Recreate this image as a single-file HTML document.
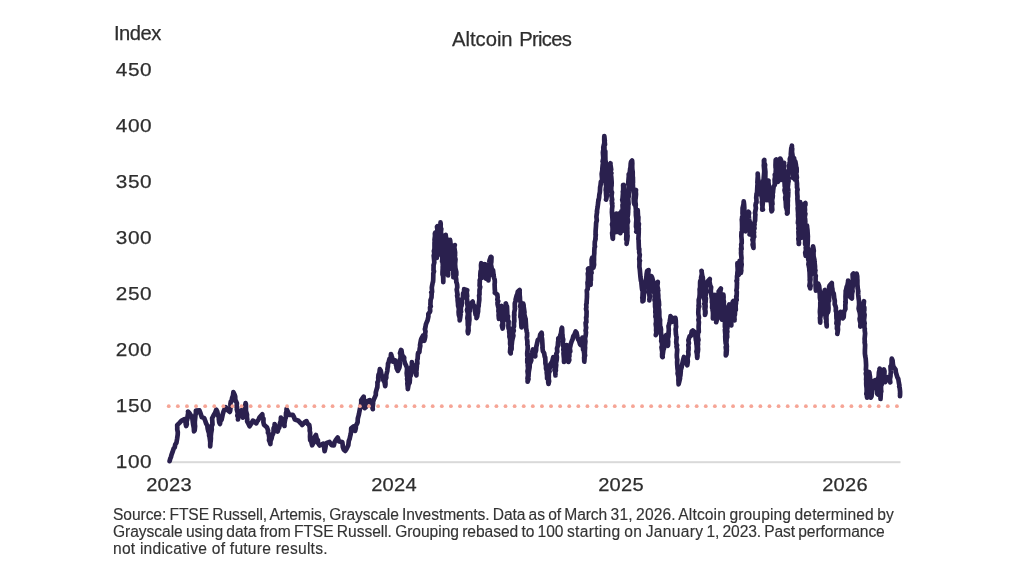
<!DOCTYPE html>
<html><head><meta charset="utf-8"><title>Altcoin Prices</title>
<style>
html,body{margin:0;padding:0;background:#fff;}
body{width:1024px;height:576px;position:relative;overflow:hidden;font-family:"Liberation Sans",sans-serif;color:#2e2e2e;}
.t{position:absolute;white-space:nowrap;line-height:1;}
.t,.yl,.xl{-webkit-text-stroke:0.25px #2e2e2e;}
.t,.yl,.xl,.fn{will-change:transform;}
.yl{position:absolute;left:101px;margin-top:0px;width:51.2px;text-align:right;font-size:19px;line-height:20px;height:20px;letter-spacing:0.5px;transform:scaleX(1.095);transform-origin:100% 50%;}
.xl{position:absolute;width:80px;text-align:center;font-size:18.7px;line-height:20px;top:475.2px;letter-spacing:0.2px;transform:scaleX(1.075);transform-origin:50% 50%;}
.fn{position:absolute;left:113.4px;top:506.4px;font-size:15.6px;line-height:17px;white-space:nowrap;color:#333;word-spacing:-1.03px;-webkit-text-stroke:0.15px #333;}
#l3{word-spacing:0;letter-spacing:0.23px;}
svg{position:absolute;left:0;top:0;filter:blur(0.35px);}
</style></head><body>
<div class="t" style="left:113.6px;top:23px;font-size:20.2px;letter-spacing:-0.5px;">Index</div>
<div class="t" id="title" style="left:452.1px;top:29.4px;font-size:20.2px;letter-spacing:0;"><span>Altcoin</span><span style="letter-spacing:-0.7px;word-spacing:1.7px"> Prices</span></div>
<div class="yl" style="top:59.5px">450</div>
<div class="yl" style="top:115.5px">400</div>
<div class="yl" style="top:171.5px">350</div>
<div class="yl" style="top:228px">300</div>
<div class="yl" style="top:284px">250</div>
<div class="yl" style="top:340px">200</div>
<div class="yl" style="top:396px">150</div>
<div class="yl" style="top:452px">100</div>
<div class="xl" style="left:128.5px">2023</div>
<div class="xl" style="left:354.3px">2024</div>
<div class="xl" style="left:580.7px">2025</div>
<div class="xl" style="left:805.1px">2026</div>
<svg width="1024" height="576" viewBox="0 0 1024 576">
<rect x="170" y="461.2" width="730.5" height="2" fill="#d9d9d9"/>
<path d="M169.6,461.2 L170.4,458.2 L171.0,456.9 L171.5,454.8 L172.4,452.4 L173.6,448.7 L174.7,447.5 L175.3,444.3 L176.4,442.8 L177.1,438.9 L177.7,434.7 L177.8,432.3 L177.2,429.1 L177.3,428.3 L177.2,425.1 L179.5,422.8 L181.3,420.9 L184.6,419.1 L185.6,421.5 L185.7,424.2 L186.2,426.1 L186.8,424.2 L186.6,421.4 L187.2,419.7 L187.7,415.7 L188.2,412.8 L188.0,411.5 L189.4,413.1 L190.8,415.2 L191.9,417.5 L192.5,419.2 L192.8,422.2 L193.1,424.2 L193.8,427.7 L193.9,429.3 L194.0,431.4 L194.7,430.2 L195.1,426.1 L194.9,424.8 L194.8,422.0 L195.1,418.8 L195.2,418.2 L195.5,414.5 L195.9,413.9 L195.9,410.6 L199.4,410.4 L200.5,413.2 L200.9,414.4 L201.8,417.2 L204.2,418.2 L205.3,421.0 L206.2,423.7 L207.3,425.7 L207.7,428.7 L208.3,431.1 L209.1,433.6 L209.1,435.6 L209.5,436.5 L210.0,440.3 L210.3,442.6 L210.2,443.8 L210.2,446.4 L210.4,443.0 L210.7,440.9 L210.9,438.3 L210.8,436.3 L211.0,434.5 L211.1,433.4 L211.8,429.4 L211.6,427.5 L211.9,424.7 L212.5,424.6 L212.3,421.0 L212.1,418.4 L213.3,416.0 L214.7,413.5 L214.9,413.4 L216.3,409.7 L217.2,411.3 L218.1,415.4 L218.9,417.7 L218.8,419.0 L219.2,422.2 L220.0,424.0 L220.5,420.6 L221.5,420.0 L222.2,417.0 L222.8,414.0 L223.5,411.7 L224.9,408.3 L225.8,407.3 L227.6,410.2 L229.8,411.9 L230.2,410.8 L230.6,406.7 L230.4,404.0 L230.8,401.5 L231.6,401.0 L232.2,397.5 L233.0,395.5 L233.4,392.1 L234.7,395.0 L235.2,396.5 L235.3,399.7 L236.1,401.5 L236.9,403.2 L236.6,407.0 L237.1,407.2 L236.8,409.4 L237.8,413.4 L237.3,415.7 L238.3,417.5 L238.0,419.4 L238.6,415.8 L240.1,415.1 L240.5,413.5 L241.2,410.3 L242.2,411.8 L242.3,414.5 L242.9,417.6 L243.3,414.9 L243.6,413.8 L244.2,410.2 L244.8,409.0 L245.1,406.6 L245.6,403.1 L245.9,404.1 L246.0,406.8 L245.9,410.7 L246.3,412.1 L247.0,414.6 L246.9,416.8 L247.3,419.7 L247.1,421.3 L248.2,423.2 L249.6,426.3 L251.0,424.1 L252.9,420.6 L254.5,421.9 L256.3,423.3 L257.3,421.1 L258.3,420.1 L259.6,417.2 L262.3,414.2 L262.6,418.2 L263.5,418.8 L263.4,422.2 L264.0,424.8 L267.1,427.6 L268.1,430.8 L267.9,432.7 L268.7,433.6 L269.3,437.9 L269.0,440.2 L269.6,441.4 L270.4,444.0 L270.5,441.1 L271.6,438.4 L272.1,435.8 L273.3,433.3 L273.6,431.1 L273.6,428.3 L274.6,426.3 L274.6,424.2 L276.3,427.4 L276.7,428.2 L277.7,431.5 L278.4,428.2 L279.1,427.9 L280.0,424.1 L279.9,423.5 L280.8,420.8 L280.9,417.7 L282.7,420.7 L283.4,424.1 L284.5,425.9 L284.4,424.2 L284.7,421.9 L285.4,418.2 L285.9,417.4 L286.0,413.1 L286.6,411.0 L286.5,409.1 L287.7,411.4 L289.2,414.8 L292.7,414.8 L293.8,416.7 L294.9,419.6 L298.5,420.8 L300.8,423.3 L302.2,425.0 L304.8,422.1 L306.5,421.2 L307.8,424.0 L309.3,425.0 L309.8,428.7 L309.7,430.8 L310.2,432.8 L310.1,434.6 L310.0,436.6 L310.2,440.2 L311.3,441.7 L312.1,445.3 L313.5,442.9 L313.6,439.4 L314.2,437.5 L315.9,435.0 L316.7,438.6 L317.9,440.1 L317.9,442.9 L319.8,445.5 L323.3,443.7 L324.1,446.3 L324.3,448.8 L324.6,451.1 L325.3,448.3 L325.9,444.7 L326.7,442.9 L329.5,441.9 L331.5,445.1 L333.9,445.3 L334.6,442.1 L336.0,439.7 L337.7,437.6 L339.0,441.5 L342.3,442.0 L342.7,445.1 L342.8,447.0 L343.8,449.7 L345.3,450.9 L346.6,448.7 L348.3,445.2 L348.8,440.8 L349.7,438.6 L350.0,437.0 L350.7,434.1 L351.1,431.7 L351.2,428.3 L353.4,426.5 L354.1,428.8 L355.1,430.9 L355.8,428.1 L355.9,425.7 L357.1,423.5 L357.6,422.4 L357.8,418.5 L358.3,416.7 L359.0,413.9 L359.8,409.5 L360.3,407.3 L361.1,404.8 L361.3,401.8 L361.2,400.3 L362.1,398.9 L363.7,396.7 L363.8,399.0 L364.1,400.3 L364.8,402.8 L365.1,407.0 L364.6,408.1 L365.9,407.1 L366.2,402.9 L366.6,401.7 L369.7,400.1 L370.3,402.3 L371.7,403.5 L372.2,406.8 L372.8,409.2 L372.6,407.8 L373.1,403.2 L373.0,402.2 L373.7,399.8 L375.3,396.1 L375.8,394.9 L375.8,392.4 L376.9,388.3 L377.3,387.7 L377.5,384.2 L377.4,382.4 L378.4,380.6 L378.2,377.9 L378.5,374.6 L378.8,374.8 L379.4,372.9 L379.8,369.2 L380.8,370.8 L381.6,375.3 L382.8,376.6 L383.2,380.0 L384.1,381.4 L384.6,382.5 L385.2,386.2 L385.5,384.2 L385.4,379.9 L386.3,377.7 L386.2,375.8 L386.4,374.5 L387.3,371.0 L387.5,368.5 L387.9,366.6 L388.0,363.6 L388.5,362.9 L389.5,358.9 L390.6,358.7 L391.0,354.0 L391.4,355.6 L392.3,358.1 L392.9,361.6 L395.1,360.4 L395.7,362.0 L395.9,364.6 L396.4,366.3 L396.6,368.3 L397.9,370.9 L399.4,367.6 L399.9,364.1 L399.5,361.7 L399.8,359.8 L400.5,358.6 L400.6,353.5 L400.0,353.2 L401.0,350.0 L401.5,350.5 L402.2,355.5 L403.4,356.6 L404.2,357.7 L404.0,359.7 L405.0,363.3 L406.3,366.0 L407.0,367.8 L407.0,370.1 L406.7,373.2 L407.0,376.0 L407.5,376.7 L407.1,378.9 L407.7,382.7 L407.3,383.3 L407.8,387.2 L407.8,389.1 L408.4,385.6 L408.6,384.5 L409.6,382.7 L409.9,379.8 L409.8,377.2 L410.8,375.6 L410.5,371.1 L411.0,370.5 L411.3,366.8 L411.9,366.3 L411.9,362.0 L412.5,364.8 L413.4,366.6 L414.0,370.3 L414.9,371.9 L416.4,375.4 L416.5,372.6 L416.2,371.9 L416.5,370.3 L416.9,365.7 L416.8,364.2 L417.4,363.6 L417.2,359.9 L417.6,359.2 L417.9,354.1 L418.2,352.9 L419.4,352.2 L419.6,349.3 L420.3,345.7 L420.0,345.2 L421.0,339.7 L421.4,338.6 L422.9,335.8 L423.5,336.8 L424.3,340.8 L425.1,337.4 L425.3,335.4 L424.9,335.1 L425.5,331.4 L424.9,329.2 L425.4,327.5 L425.9,324.4 L427.2,321.0 L427.4,320.9 L428.4,316.4 L428.3,313.9 L429.8,312.1 L430.2,311.0 L430.0,307.4 L430.8,306.4 L430.4,304.5 L430.6,300.7 L430.5,300.2 L431.5,297.5 L431.7,293.0 L431.3,292.4 L432.1,292.0 L431.8,287.7 L432.1,285.7 L432.8,282.1 L433.0,282.0 L433.2,279.8 L433.3,275.7 L433.3,273.5 L434.0,271.2 L433.5,270.5 L433.6,265.5 L433.5,265.2 L433.8,264.6 L434.3,262.4 L433.8,256.4 L433.7,255.9 L434.3,253.4 L433.9,251.0 L434.3,249.8 L434.5,248.3 L434.5,242.9 L434.7,241.4 L434.5,239.8 L435.0,236.0 L434.9,233.6 L435.2,232.6 L435.7,233.6 L435.6,238.9 L435.8,237.9 L436.1,242.1 L436.4,242.1 L436.0,247.5 L436.4,250.3 L435.8,250.0 L436.0,252.0 L436.8,256.0 L436.9,257.8 L436.9,255.5 L436.4,254.6 L437.1,249.5 L436.9,249.4 L436.6,246.1 L436.6,243.1 L436.8,242.6 L437.2,238.6 L436.7,236.8 L437.4,233.9 L437.1,231.8 L437.6,231.0 L437.0,226.8 L437.4,226.3 L437.7,226.6 L437.4,231.5 L437.7,231.9 L437.7,237.1 L437.8,237.6 L438.0,239.2 L438.5,243.9 L438.2,242.6 L438.6,244.9 L438.1,250.1 L438.5,251.9 L438.6,254.4 L438.8,254.5 L438.5,252.9 L439.1,252.1 L438.7,248.6 L439.1,245.8 L439.0,242.6 L439.4,243.1 L439.2,238.9 L439.9,238.7 L439.5,232.7 L440.2,234.2 L439.9,227.8 L440.4,227.0 L440.5,225.7 L440.5,222.4 L440.7,224.1 L440.6,229.3 L441.3,228.8 L440.9,232.2 L441.4,234.6 L441.3,236.5 L442.1,240.6 L441.6,242.6 L442.3,242.7 L442.4,245.3 L442.3,249.5 L442.3,250.8 L442.2,254.3 L442.3,256.9 L442.4,258.3 L442.1,261.4 L442.6,262.1 L442.9,266.7 L442.7,266.5 L442.7,268.6 L442.5,272.2 L442.5,274.6 L443.0,275.3 L443.2,277.8 L443.3,282.1 L443.3,277.6 L443.4,276.4 L444.0,273.1 L444.0,274.1 L444.1,270.9 L443.8,269.2 L444.2,266.7 L444.7,261.0 L444.8,260.6 L444.2,257.1 L445.0,253.9 L445.3,252.1 L445.3,249.2 L445.2,250.1 L445.1,245.0 L445.5,242.9 L445.2,240.0 L445.4,240.9 L446.0,238.4 L445.7,234.8 L445.8,236.8 L446.4,238.4 L446.7,241.5 L446.6,245.2 L446.3,247.9 L446.9,247.7 L447.2,249.4 L447.5,253.0 L447.1,255.4 L447.2,255.9 L447.6,257.6 L447.8,260.7 L447.7,265.9 L447.8,266.8 L447.6,266.3 L447.5,269.1 L448.1,272.5 L448.1,275.5 L447.9,271.6 L448.5,268.4 L448.0,267.4 L448.3,265.1 L448.5,263.7 L448.9,259.8 L449.1,258.6 L448.8,258.1 L449.0,252.5 L449.0,252.2 L449.8,250.5 L449.5,246.0 L449.3,245.3 L449.9,241.7 L450.1,239.9 L450.5,243.3 L450.0,246.4 L449.9,247.1 L450.3,248.2 L450.1,252.8 L450.2,254.2 L451.1,254.8 L450.5,259.1 L450.9,261.6 L451.3,262.0 L450.9,264.9 L450.8,268.6 L451.6,266.7 L451.0,265.0 L451.8,261.3 L451.9,259.0 L451.6,255.4 L451.7,252.9 L452.0,253.6 L452.4,251.9 L452.6,247.2 L452.5,245.9 L452.8,248.3 L452.4,251.0 L453.1,251.5 L453.1,252.8 L452.6,256.0 L453.1,261.1 L453.2,260.8 L453.4,263.0 L452.9,267.6 L453.3,268.9 L453.4,272.3 L453.3,273.9 L453.6,276.2 L453.4,277.3 L453.6,273.9 L453.4,272.8 L453.3,271.7 L453.4,265.8 L453.5,267.1 L453.7,261.6 L453.5,258.8 L454.2,258.9 L454.3,257.0 L453.8,254.1 L454.1,252.7 L454.6,250.7 L453.9,248.3 L454.8,245.1 L454.2,245.5 L454.3,247.0 L455.1,252.6 L455.0,255.0 L455.1,255.0 L454.8,256.6 L455.5,259.3 L455.2,262.5 L455.1,264.2 L455.4,268.3 L455.6,269.1 L456.3,272.1 L456.3,274.9 L455.7,276.3 L456.2,279.4 L456.3,282.2 L456.6,282.6 L457.1,284.5 L457.3,287.2 L456.7,289.6 L457.6,295.0 L457.1,295.5 L457.7,298.9 L457.6,300.0 L458.0,303.5 L458.1,306.2 L458.3,305.8 L458.9,309.1 L458.6,311.9 L458.8,314.7 L459.5,317.0 L459.7,317.7 L459.7,320.4 L460.3,316.8 L460.6,314.4 L460.2,313.0 L461.1,311.6 L460.8,310.8 L460.9,307.0 L461.5,305.9 L461.9,303.3 L461.8,300.3 L462.1,299.5 L463.0,296.9 L463.1,293.5 L464.1,291.8 L464.1,289.2 L467.2,290.2 L466.7,292.0 L467.2,296.3 L466.8,295.9 L466.9,298.8 L467.2,300.4 L467.1,302.8 L467.8,307.0 L467.0,310.1 L467.1,310.2 L468.0,313.9 L467.8,314.9 L467.4,317.8 L467.4,318.5 L467.7,320.2 L467.8,325.1 L468.1,326.3 L468.1,328.4 L467.7,331.1 L468.0,333.3 L468.6,330.5 L468.5,329.3 L468.5,325.2 L468.9,325.2 L469.1,322.2 L469.4,319.9 L469.3,316.8 L469.2,315.1 L469.2,312.1 L469.9,310.9 L470.0,306.9 L469.9,305.4 L471.4,302.9 L472.7,301.6 L473.0,304.3 L474.4,306.1 L475.0,309.9 L475.1,311.6 L475.6,314.6 L476.8,315.9 L476.5,318.1 L477.2,316.6 L477.5,314.1 L478.1,311.5 L478.1,310.9 L478.2,307.7 L478.7,305.8 L478.7,304.5 L479.3,299.9 L479.3,297.8 L479.1,295.6 L479.5,294.4 L479.5,290.5 L479.5,290.0 L480.2,286.9 L479.6,285.7 L479.8,281.2 L479.7,280.4 L480.5,278.2 L480.3,275.6 L480.3,274.9 L480.6,271.3 L481.2,269.7 L481.0,265.2 L481.3,263.2 L481.8,265.5 L482.0,267.6 L481.8,269.9 L482.0,272.0 L481.8,276.5 L482.3,277.6 L482.5,275.6 L482.8,273.9 L483.1,270.4 L483.6,270.1 L482.9,267.7 L483.9,264.4 L484.7,264.2 L485.3,264.3 L484.9,270.7 L485.6,270.4 L485.3,272.5 L485.6,277.6 L485.9,278.5 L486.7,277.9 L486.5,276.1 L487.2,273.4 L487.7,270.6 L488.0,273.9 L487.7,275.8 L488.3,278.5 L488.4,280.5 L488.6,276.8 L488.5,274.1 L488.8,271.6 L488.9,269.7 L489.0,268.9 L489.1,268.1 L488.8,265.8 L489.3,262.5 L489.5,260.5 L490.8,256.8 L491.5,257.4 L491.3,262.0 L490.9,264.1 L491.6,267.7 L491.4,270.2 L491.7,270.4 L492.2,270.9 L492.2,275.2 L492.4,273.9 L493.0,270.0 L493.4,273.6 L493.5,274.7 L494.0,277.7 L494.7,279.7 L494.8,282.2 L494.6,284.3 L494.8,289.6 L495.0,291.5 L494.8,292.8 L497.3,294.4 L497.7,297.6 L497.3,299.6 L498.2,301.2 L497.5,302.6 L497.6,304.5 L498.6,308.3 L498.4,311.2 L498.8,312.8 L498.6,315.2 L498.8,317.3 L498.9,318.9 L499.3,316.8 L499.8,313.2 L499.7,310.7 L500.7,311.6 L501.0,307.3 L501.5,305.9 L501.4,306.9 L501.3,309.7 L501.5,312.0 L501.9,316.1 L501.5,317.0 L501.6,317.7 L502.4,321.5 L502.6,323.3 L501.9,325.4 L502.6,328.5 L503.2,325.6 L503.0,322.0 L503.4,320.0 L503.3,317.0 L503.4,317.0 L503.8,315.7 L504.0,312.2 L504.5,307.8 L505.5,306.4 L506.0,304.0 L505.8,303.4 L506.7,306.8 L507.0,306.5 L507.2,311.3 L507.3,314.6 L507.4,317.2 L508.0,316.3 L507.7,320.7 L508.6,321.2 L508.4,325.7 L508.5,328.3 L509.0,327.7 L509.2,331.7 L509.5,334.2 L509.4,336.8 L509.9,338.2 L510.2,340.2 L510.1,343.9 L510.7,346.4 L510.4,347.3 L510.0,352.0 L510.7,353.4 L510.7,350.8 L511.6,349.1 L511.6,344.9 L511.8,344.3 L512.1,341.1 L512.6,338.5 L513.4,335.7 L512.8,333.0 L513.3,331.9 L513.8,330.7 L513.2,328.3 L514.0,326.3 L513.9,322.0 L514.3,321.7 L514.3,319.9 L514.1,314.7 L514.4,315.1 L514.2,312.7 L515.0,308.6 L514.8,308.0 L514.8,304.1 L514.8,303.3 L515.8,300.6 L515.6,299.6 L516.7,295.2 L517.1,295.5 L517.8,291.8 L519.7,290.0 L519.6,291.0 L519.7,295.3 L519.9,297.1 L520.0,299.2 L519.9,299.7 L520.8,303.3 L520.1,306.5 L520.8,307.1 L520.7,310.1 L520.7,311.2 L520.4,317.0 L521.2,317.5 L521.0,319.0 L521.3,321.9 L521.6,325.4 L521.5,327.3 L521.2,322.8 L521.4,320.9 L521.4,318.0 L522.0,318.6 L522.1,316.5 L522.7,310.9 L522.6,309.8 L522.4,309.4 L522.7,305.6 L523.2,303.6 L523.6,305.1 L523.7,306.8 L524.5,312.3 L524.1,311.3 L524.5,315.0 L525.4,318.5 L525.6,318.9 L525.9,323.7 L526.1,327.2 L525.9,326.8 L526.8,332.0 L527.1,332.8 L527.1,336.3 L526.8,337.2 L527.0,339.0 L527.4,341.5 L527.3,344.6 L527.7,345.7 L527.7,348.6 L527.2,353.3 L527.3,355.6 L528.0,357.8 L527.3,358.7 L527.3,362.5 L528.0,363.8 L527.7,365.3 L528.0,368.0 L527.9,369.3 L527.5,371.3 L528.0,375.1 L527.5,378.4 L527.7,379.3 L527.6,381.7 L528.5,379.1 L528.1,377.3 L528.5,376.3 L528.6,374.3 L528.8,371.7 L529.6,367.4 L529.7,365.4 L529.8,363.4 L530.3,363.0 L531.3,360.5 L530.9,356.2 L532.0,353.2 L532.3,351.6 L532.9,349.5 L533.6,351.6 L533.8,352.6 L535.3,356.3 L535.1,353.5 L536.1,350.3 L536.2,347.6 L536.2,347.1 L537.1,343.4 L537.8,339.9 L539.5,338.7 L540.2,334.6 L541.6,332.7 L541.9,335.1 L541.5,335.7 L542.1,339.2 L542.2,340.4 L542.4,343.7 L542.6,347.7 L542.4,347.3 L542.9,351.2 L544.1,353.0 L544.7,356.6 L545.2,357.5 L545.4,361.2 L545.4,363.3 L546.0,365.6 L546.0,368.5 L546.9,371.3 L546.7,372.7 L547.1,375.6 L547.1,378.4 L548.3,379.6 L548.2,382.1 L548.5,383.9 L549.1,381.2 L548.6,378.4 L548.8,378.1 L548.8,373.5 L549.6,371.4 L549.2,370.2 L549.9,367.5 L550.2,364.6 L552.2,361.5 L553.3,357.1 L554.0,360.0 L554.0,361.3 L554.3,363.9 L554.7,368.6 L554.5,370.2 L555.3,371.5 L555.5,375.5 L555.3,372.4 L555.9,370.3 L555.7,369.2 L556.2,365.0 L555.8,362.6 L556.2,362.2 L556.7,359.7 L556.9,357.1 L556.3,353.7 L557.3,351.7 L557.0,348.5 L557.8,345.8 L558.0,342.3 L558.3,341.3 L558.3,338.3 L559.8,337.5 L560.4,334.9 L560.9,333.7 L561.6,328.6 L562.0,327.8 L562.2,329.7 L562.3,334.4 L562.5,334.5 L562.6,337.5 L563.2,339.5 L562.8,343.1 L562.8,345.1 L563.7,347.5 L563.3,349.7 L563.7,351.1 L563.5,353.5 L563.8,356.8 L564.0,358.7 L564.0,362.0 L565.1,359.8 L565.2,357.5 L565.2,355.3 L565.8,352.4 L566.3,349.7 L566.4,346.6 L566.6,345.0 L567.1,347.8 L567.0,349.5 L568.0,351.7 L568.0,355.0 L568.0,359.0 L568.3,360.8 L568.4,362.0 L569.3,360.0 L568.8,357.5 L569.4,356.2 L569.3,352.2 L570.3,351.5 L569.8,347.9 L570.2,346.7 L570.7,344.2 L571.7,341.3 L572.5,339.6 L573.3,336.2 L574.4,334.8 L575.6,331.5 L576.5,332.5 L577.4,336.8 L578.1,339.3 L579.0,340.6 L580.0,344.1 L580.7,344.9 L581.2,342.4 L582.1,339.3 L582.4,337.6 L582.6,339.3 L583.1,343.4 L583.1,344.4 L583.0,346.4 L583.1,349.6 L583.7,350.4 L584.2,353.6 L584.3,357.6 L584.6,357.9 L584.3,361.7 L584.1,357.6 L584.6,356.8 L585.1,355.5 L584.8,354.0 L584.9,350.2 L585.1,347.6 L584.9,346.1 L585.0,345.0 L585.4,341.4 L585.0,338.7 L585.3,337.1 L585.6,336.0 L586.0,332.5 L585.6,330.6 L586.2,327.4 L585.9,326.7 L585.6,322.7 L586.4,322.2 L586.1,317.4 L586.5,317.1 L586.5,315.9 L586.6,311.6 L586.0,308.8 L586.4,307.3 L586.2,304.6 L586.7,303.1 L586.6,302.2 L587.0,296.4 L586.9,296.8 L587.0,294.2 L586.8,290.4 L587.7,289.1 L587.7,285.3 L587.6,284.4 L587.5,282.4 L587.9,281.5 L588.1,276.9 L587.8,273.6 L588.5,271.1 L588.0,269.0 L588.5,268.5 L588.9,271.7 L588.7,270.9 L589.6,274.6 L589.8,277.1 L589.6,279.2 L589.9,284.1 L590.6,284.8 L590.6,282.3 L590.3,282.0 L590.9,280.1 L590.9,276.5 L590.9,271.9 L591.6,272.9 L591.2,270.9 L591.8,266.2 L591.7,266.6 L591.7,264.3 L591.6,259.8 L592.2,257.6 L592.2,262.0 L592.7,264.2 L592.9,264.2 L593.4,267.6 L594.1,264.8 L593.9,261.8 L594.0,260.6 L594.0,257.0 L593.9,257.9 L594.3,253.1 L594.3,251.0 L594.5,247.6 L595.0,246.6 L594.7,245.3 L594.8,241.8 L595.6,238.9 L595.3,239.7 L595.8,234.5 L595.5,234.7 L595.6,233.5 L595.6,231.2 L596.0,225.8 L596.1,223.1 L596.5,221.4 L596.8,220.6 L596.4,216.8 L596.7,214.4 L597.1,211.8 L596.9,211.3 L597.1,210.1 L597.6,207.2 L598.1,203.1 L598.4,199.7 L598.5,200.9 L599.1,197.6 L599.3,194.7 L599.9,192.0 L600.1,187.5 L600.4,185.8 L600.5,185.8 L600.9,181.8 L601.8,181.2 L602.1,179.2 L601.7,174.6 L601.7,173.7 L602.4,169.8 L602.3,169.1 L602.7,164.8 L603.0,163.1 L603.0,160.0 L602.6,161.5 L603.3,158.2 L602.9,152.5 L603.1,151.1 L603.4,149.8 L603.3,147.2 L604.0,144.3 L604.3,144.1 L604.3,140.2 L604.2,140.2 L604.3,136.1 L604.8,140.8 L604.4,139.2 L605.0,144.6 L604.4,145.0 L604.5,150.2 L604.7,153.2 L605.3,151.2 L605.3,155.1 L605.4,159.7 L605.1,158.2 L605.8,162.3 L605.9,165.3 L605.8,169.0 L605.7,169.4 L605.2,173.0 L605.6,174.4 L606.1,174.8 L606.0,176.8 L606.0,182.8 L605.7,183.9 L606.4,186.7 L606.0,187.1 L605.7,190.0 L606.0,191.6 L606.0,193.6 L606.4,198.5 L606.0,199.6 L606.5,197.5 L607.0,194.8 L606.7,195.2 L606.7,191.4 L607.1,190.4 L607.5,187.9 L607.3,185.3 L607.9,182.0 L608.2,180.6 L608.0,176.6 L608.6,173.9 L608.7,171.9 L609.2,171.7 L609.8,166.4 L610.1,165.9 L610.5,163.2 L610.3,163.5 L611.2,169.5 L610.5,171.6 L611.4,173.1 L610.7,175.0 L611.1,175.8 L611.3,177.2 L611.7,182.6 L611.5,186.3 L611.6,185.2 L611.3,186.9 L611.2,192.3 L612.0,192.2 L611.5,196.1 L612.2,199.8 L611.7,200.5 L612.3,203.5 L611.9,203.2 L612.4,206.1 L612.0,209.5 L612.0,213.1 L611.9,211.8 L612.3,216.8 L612.5,219.5 L612.6,222.9 L612.3,223.2 L612.0,224.6 L612.4,225.9 L612.6,228.6 L612.4,234.5 L612.1,232.8 L612.4,235.7 L612.7,238.6 L612.9,238.7 L613.0,234.6 L612.6,233.5 L613.0,230.2 L612.9,228.0 L613.3,227.5 L613.7,222.4 L613.2,221.4 L613.6,218.7 L613.4,215.3 L613.6,214.9 L614.4,219.3 L614.4,222.0 L614.7,222.8 L614.7,222.7 L614.8,227.6 L614.6,229.9 L615.4,232.0 L615.3,228.8 L615.2,229.1 L615.0,223.8 L615.8,222.6 L615.4,221.3 L615.8,218.7 L616.0,216.2 L616.3,213.6 L616.1,214.6 L616.9,218.5 L616.4,222.2 L616.7,221.1 L617.1,224.0 L617.2,227.7 L617.1,230.0 L617.2,232.0 L617.7,227.9 L617.7,225.6 L617.9,226.9 L618.2,224.0 L618.5,219.0 L618.9,219.5 L618.2,217.8 L618.7,213.5 L619.3,216.7 L619.3,217.1 L619.5,219.1 L619.1,222.9 L619.1,226.3 L619.4,227.4 L620.0,230.3 L620.3,233.2 L620.5,230.9 L620.6,230.0 L620.1,227.1 L620.4,224.8 L620.8,222.8 L620.5,218.4 L621.1,218.7 L621.3,212.2 L621.3,211.4 L621.4,215.8 L621.1,218.7 L621.8,218.0 L621.5,221.3 L622.2,224.2 L621.7,224.1 L621.8,230.0 L622.0,231.1 L622.1,229.6 L622.2,225.0 L622.7,224.5 L622.6,223.5 L622.8,217.7 L622.3,216.1 L622.5,217.2 L622.7,211.2 L622.2,212.5 L622.7,208.4 L622.5,205.1 L622.9,203.9 L622.9,202.7 L622.2,199.7 L622.5,199.4 L623.0,192.8 L622.8,191.8 L623.2,190.4 L623.2,186.8 L623.1,185.1 L623.7,184.9 L624.1,191.7 L624.0,189.9 L624.9,192.7 L624.8,196.0 L624.9,198.5 L625.2,202.6 L625.7,200.4 L625.4,206.1 L625.8,208.3 L625.6,209.8 L625.5,210.4 L626.0,215.3 L626.2,216.6 L625.7,219.2 L626.2,220.2 L626.2,221.7 L626.2,224.2 L625.8,226.1 L626.1,231.2 L626.4,230.6 L626.2,232.2 L626.4,234.0 L626.2,239.4 L626.7,239.8 L626.9,241.4 L626.6,243.8 L626.8,241.4 L627.2,240.2 L627.5,237.1 L627.6,236.0 L626.9,232.0 L627.4,233.3 L627.3,230.2 L627.4,228.4 L627.2,224.5 L628.0,221.4 L627.5,218.0 L627.5,216.9 L628.0,214.5 L627.8,212.2 L628.1,213.1 L628.2,207.8 L628.3,209.2 L628.3,202.8 L628.6,204.4 L628.2,198.7 L628.1,198.4 L628.8,196.2 L628.9,192.3 L628.4,192.5 L628.7,188.5 L628.8,185.9 L628.2,183.9 L628.3,182.6 L628.5,179.6 L628.8,176.1 L628.7,174.2 L629.7,173.0 L630.2,168.2 L630.4,169.3 L630.7,163.8 L631.1,161.7 L632.1,160.5 L632.3,163.2 L632.2,166.5 L632.3,169.2 L632.4,169.9 L632.7,172.0 L632.7,176.9 L632.9,177.0 L633.0,182.7 L632.8,181.6 L633.0,187.3 L632.8,186.7 L633.3,190.7 L633.7,191.8 L634.1,193.7 L634.1,195.6 L633.7,198.3 L633.9,202.5 L634.5,204.5 L635.1,201.9 L634.6,198.5 L635.3,199.5 L634.9,192.8 L635.7,191.3 L636.0,190.0 L635.8,191.5 L636.0,194.2 L635.6,198.5 L635.4,199.9 L635.4,201.7 L635.8,205.0 L635.5,205.8 L635.9,209.6 L636.4,210.5 L635.8,211.0 L635.9,214.0 L635.9,215.2 L636.4,219.4 L636.1,223.2 L636.1,223.5 L636.0,227.0 L636.7,226.5 L636.7,231.2 L636.3,231.7 L636.6,231.5 L636.5,228.4 L637.0,225.2 L637.2,224.9 L637.0,222.7 L637.3,220.1 L637.9,215.2 L638.0,216.7 L637.7,210.0 L637.7,210.8 L637.6,214.1 L637.8,215.6 L637.8,215.2 L638.4,217.1 L638.2,223.1 L638.6,225.2 L638.9,223.7 L638.3,229.3 L638.8,228.2 L638.7,231.3 L638.7,233.0 L638.4,239.1 L638.7,240.9 L638.6,241.4 L638.7,243.4 L638.8,246.8 L638.9,249.3 L639.3,248.9 L639.2,252.7 L639.8,254.8 L639.2,259.3 L639.9,260.6 L639.4,260.7 L639.5,262.6 L639.4,266.8 L639.8,269.3 L639.8,269.4 L640.2,274.0 L640.4,276.4 L640.9,280.6 L641.5,282.1 L641.4,283.0 L641.8,286.9 L641.9,288.0 L642.1,289.4 L642.7,291.1 L642.5,296.8 L642.3,297.8 L642.5,298.7 L642.5,301.4 L643.4,300.7 L643.8,295.7 L643.9,294.5 L644.2,293.1 L644.2,292.5 L644.2,289.4 L645.3,286.3 L645.4,285.7 L645.4,281.8 L646.2,278.3 L646.5,275.8 L646.6,274.2 L647.1,271.0 L648.6,270.1 L648.3,272.8 L648.4,276.2 L648.7,277.8 L648.8,279.1 L648.6,280.1 L649.3,284.0 L649.0,286.3 L649.3,287.5 L648.8,292.0 L649.2,293.6 L649.6,296.9 L649.7,296.0 L649.3,300.4 L649.9,296.2 L649.5,294.3 L649.6,292.3 L650.4,290.6 L650.3,286.5 L650.4,287.7 L650.9,283.2 L650.9,282.2 L651.3,277.2 L651.4,276.1 L652.2,277.7 L653.0,281.0 L653.2,281.7 L653.3,286.2 L653.3,287.1 L654.1,289.8 L654.0,292.1 L654.7,293.9 L654.7,299.1 L654.5,299.9 L655.3,302.7 L655.0,303.1 L655.1,306.7 L655.5,308.7 L655.3,312.3 L655.7,313.6 L655.4,316.7 L656.0,317.7 L656.1,321.8 L655.7,324.0 L655.7,324.2 L656.2,327.6 L656.1,330.3 L656.5,333.6 L655.8,335.1 L656.3,332.7 L656.7,330.3 L656.4,329.7 L656.4,326.1 L656.5,325.1 L656.7,322.6 L656.5,317.9 L656.8,317.5 L657.0,316.1 L656.4,311.9 L656.4,311.8 L656.5,307.0 L657.2,306.5 L656.6,304.7 L657.2,301.7 L656.7,300.3 L657.1,297.7 L657.6,296.4 L657.6,291.6 L657.1,290.8 L656.9,290.4 L657.2,285.4 L657.3,283.2 L657.8,282.0 L657.6,283.9 L657.3,285.8 L658.2,290.0 L658.3,290.2 L657.9,291.8 L658.3,295.3 L658.3,298.0 L658.6,299.9 L658.9,301.6 L659.1,305.1 L658.5,306.8 L659.1,309.5 L659.3,311.7 L659.3,315.8 L659.5,317.9 L660.1,319.9 L660.0,322.5 L660.1,325.5 L659.9,326.2 L660.6,327.1 L661.0,329.4 L660.9,332.0 L661.3,335.5 L661.4,337.5 L661.4,340.3 L661.2,341.0 L661.9,343.0 L662.1,345.5 L661.5,347.3 L662.3,352.3 L662.1,353.6 L662.1,356.6 L662.7,357.1 L662.5,355.9 L662.8,354.1 L663.4,349.9 L664.1,347.9 L664.4,345.1 L665.1,343.4 L665.4,340.6 L665.8,341.1 L665.8,335.7 L666.1,335.2 L666.3,337.4 L666.4,339.4 L667.2,341.5 L667.4,342.7 L667.8,345.8 L668.0,345.5 L668.2,341.6 L667.8,338.7 L668.4,336.8 L668.7,333.1 L668.5,333.3 L668.8,329.9 L668.5,326.1 L668.8,325.5 L669.7,321.7 L670.2,318.7 L670.3,319.6 L670.5,316.2 L671.4,317.2 L671.8,321.9 L673.5,318.3 L675.3,317.9 L675.5,318.3 L675.8,320.7 L675.9,325.5 L676.1,326.7 L675.6,329.2 L675.8,331.9 L675.9,334.0 L676.2,335.7 L676.6,337.3 L676.2,342.2 L676.5,344.2 L677.1,345.3 L676.5,346.4 L677.2,349.6 L677.0,352.6 L676.8,354.9 L676.9,357.6 L677.3,359.6 L677.1,362.2 L677.2,364.6 L677.5,368.6 L677.9,371.0 L677.6,373.6 L678.2,375.6 L678.5,377.7 L678.4,380.3 L678.5,381.3 L678.6,384.3 L679.3,381.4 L680.0,378.4 L680.0,376.4 L680.4,375.6 L680.8,371.0 L680.7,370.2 L681.7,367.0 L681.9,365.6 L682.7,362.0 L683.2,359.9 L683.9,357.0 L684.9,359.7 L685.5,362.1 L687.3,365.3 L687.8,361.6 L687.6,359.3 L687.6,357.3 L687.8,357.4 L688.5,354.6 L688.2,351.4 L688.5,350.4 L688.6,347.3 L688.3,345.0 L688.9,343.2 L688.4,340.3 L689.6,336.4 L691.0,335.6 L691.8,331.3 L692.8,330.5 L695.4,332.8 L695.5,335.8 L695.5,336.8 L695.9,340.3 L696.2,340.9 L696.4,344.0 L696.6,344.9 L696.9,349.3 L696.4,351.8 L696.6,352.0 L697.0,354.4 L697.2,357.9 L697.5,355.9 L697.4,353.8 L697.9,351.2 L698.1,349.3 L697.7,344.6 L698.1,344.8 L697.9,341.7 L698.5,340.0 L697.8,336.7 L698.0,333.1 L698.8,331.8 L698.7,329.7 L698.6,327.2 L698.6,326.4 L698.9,322.2 L698.4,319.8 L698.9,318.1 L698.9,317.1 L698.4,314.4 L698.3,312.6 L698.5,308.3 L699.2,306.4 L698.5,306.0 L698.8,303.7 L698.7,300.0 L699.4,297.7 L699.7,294.1 L699.7,291.7 L699.7,288.7 L699.6,290.0 L700.1,287.1 L700.1,283.0 L700.2,281.3 L701.3,278.6 L701.1,277.6 L701.9,273.9 L701.5,270.8 L702.1,274.8 L702.3,276.1 L702.8,277.4 L703.0,280.9 L703.6,282.7 L703.4,286.9 L703.4,288.0 L704.0,290.0 L703.9,293.0 L704.4,295.2 L704.4,294.9 L704.1,297.6 L704.8,302.7 L704.2,303.9 L704.7,304.2 L704.6,309.0 L704.9,309.6 L705.1,312.0 L705.0,314.9 L705.5,313.2 L705.5,311.0 L705.2,309.8 L705.6,306.5 L705.3,302.2 L705.6,302.4 L705.9,298.3 L705.4,296.6 L706.2,293.0 L706.2,290.7 L705.9,287.9 L706.0,286.9 L706.7,285.6 L707.5,281.5 L709.8,279.0 L709.5,281.3 L709.7,282.8 L710.2,285.5 L711.1,287.2 L710.7,291.9 L711.2,292.9 L711.5,295.9 L711.4,295.8 L712.0,299.3 L711.9,302.4 L712.3,303.3 L712.1,307.9 L712.4,308.0 L712.6,310.2 L712.9,311.7 L713.1,315.9 L712.9,318.5 L713.0,314.8 L713.0,313.6 L713.8,311.7 L713.7,309.9 L713.7,305.8 L714.3,305.9 L714.5,302.6 L714.8,299.2 L715.2,298.2 L714.9,294.9 L715.4,296.7 L715.0,300.9 L715.4,301.8 L715.7,305.5 L715.3,305.7 L715.4,308.2 L715.9,312.0 L716.2,313.3 L716.0,315.5 L716.0,318.7 L716.6,320.9 L716.2,322.2 L716.9,319.7 L717.2,318.8 L717.2,316.2 L717.2,314.1 L716.9,311.2 L717.6,308.6 L717.4,304.3 L717.8,304.7 L717.7,300.2 L717.8,297.4 L718.4,298.4 L718.6,293.8 L718.7,291.4 L720.9,288.5 L720.3,291.5 L720.5,292.4 L720.5,295.2 L721.0,298.8 L720.7,301.1 L720.8,301.1 L721.4,303.8 L721.2,306.9 L721.2,309.9 L721.3,312.3 L722.0,313.4 L721.4,316.5 L721.5,317.8 L721.9,319.5 L722.3,318.5 L722.3,315.1 L722.4,313.5 L722.3,312.2 L723.1,309.7 L723.2,305.7 L723.4,302.5 L723.1,300.5 L723.2,300.2 L723.6,297.1 L723.4,294.6 L723.5,296.4 L723.5,300.4 L723.9,301.5 L723.7,304.7 L723.9,305.4 L724.3,309.2 L724.8,311.6 L724.9,314.5 L724.8,316.0 L724.4,316.5 L724.4,321.0 L725.2,322.2 L724.9,323.7 L724.9,326.9 L725.7,327.9 L724.9,329.7 L725.3,334.4 L725.8,335.0 L725.2,336.1 L725.4,340.5 L725.7,343.4 L726.2,345.0 L725.9,347.2 L725.7,347.1 L726.1,350.6 L725.9,352.0 L725.8,355.5 L726.5,354.1 L726.8,350.1 L726.7,347.6 L726.9,346.8 L726.3,341.7 L726.5,341.3 L726.7,337.0 L727.2,337.3 L727.0,332.5 L727.4,331.8 L726.8,328.7 L727.4,328.3 L727.3,325.2 L727.2,321.4 L727.9,319.9 L727.4,317.8 L727.7,313.9 L728.2,312.8 L728.6,310.7 L728.7,305.9 L729.2,304.4 L729.2,306.9 L729.6,310.2 L729.4,312.2 L730.1,313.8 L729.8,317.6 L730.4,316.8 L730.3,322.3 L730.5,322.4 L731.3,325.4 L731.3,323.6 L730.9,319.1 L732.0,319.4 L731.3,314.5 L731.7,315.5 L731.8,312.3 L732.7,310.0 L732.8,306.4 L732.3,303.3 L733.0,301.4 L733.4,300.9 L732.9,304.2 L733.1,305.5 L733.2,308.9 L734.1,311.8 L733.5,314.0 L734.2,316.3 L734.3,318.0 L734.6,320.4 L734.3,316.2 L734.9,314.8 L735.0,311.6 L735.5,309.4 L735.8,310.0 L735.6,305.3 L736.0,303.4 L736.0,300.8 L736.7,300.1 L736.2,296.3 L736.6,296.9 L736.8,291.9 L736.4,290.4 L736.9,287.6 L736.8,288.6 L737.0,282.6 L736.5,280.8 L737.1,280.5 L737.0,277.8 L737.0,276.2 L737.3,275.2 L737.4,272.5 L737.7,270.5 L737.5,265.0 L737.6,266.1 L737.4,263.0 L737.5,266.8 L738.0,268.3 L738.2,269.2 L738.6,271.8 L738.6,274.9 L739.6,273.3 L739.7,271.5 L739.8,270.1 L739.9,264.9 L739.6,263.2 L739.6,260.9 L740.6,265.2 L740.3,266.8 L741.0,269.6 L741.3,270.4 L740.9,273.0 L741.1,270.7 L741.2,268.0 L741.7,264.2 L741.3,263.8 L741.4,262.7 L741.3,260.3 L741.5,258.2 L741.0,252.7 L741.2,253.3 L741.0,248.3 L741.6,249.0 L741.2,244.4 L741.7,243.1 L741.7,240.4 L741.4,236.7 L741.3,236.3 L741.5,232.1 L742.3,231.5 L742.0,229.3 L742.1,227.2 L742.0,222.1 L741.8,219.6 L742.2,217.9 L742.1,217.2 L742.9,215.3 L742.5,213.6 L742.6,208.0 L742.9,206.8 L743.5,204.3 L743.7,201.3 L744.0,203.6 L744.1,204.4 L744.3,207.7 L744.4,212.6 L744.4,212.5 L744.0,214.4 L744.9,216.6 L744.9,220.9 L745.0,221.3 L744.7,223.3 L745.6,226.9 L745.5,230.0 L745.3,231.3 L745.3,231.1 L745.6,229.2 L746.0,225.7 L746.0,223.6 L746.3,219.3 L746.8,215.7 L746.8,215.5 L748.6,211.8 L749.1,213.0 L748.7,215.3 L749.0,218.3 L749.4,221.1 L749.7,221.5 L749.6,227.3 L749.4,226.0 L749.7,228.7 L749.8,233.6 L749.6,234.4 L750.4,231.1 L750.5,229.7 L750.8,225.6 L751.4,225.0 L752.1,227.5 L751.4,228.4 L752.2,232.2 L752.5,236.2 L752.6,234.8 L752.9,238.9 L752.4,239.7 L753.1,242.2 L752.6,244.7 L753.5,247.9 L753.4,244.0 L753.3,242.8 L753.2,242.1 L753.5,237.6 L754.2,236.9 L753.6,232.7 L754.1,232.7 L753.7,230.3 L754.5,228.4 L754.1,226.0 L754.6,224.5 L754.3,223.0 L755.1,220.5 L755.2,216.6 L755.4,214.5 L755.0,213.0 L755.9,208.1 L755.5,205.3 L755.9,203.3 L756.0,202.9 L756.5,202.4 L756.4,198.9 L756.2,198.0 L756.6,193.5 L757.0,193.6 L757.1,191.6 L757.4,185.6 L757.7,183.4 L758.0,182.4 L757.4,182.7 L757.7,177.7 L757.8,176.8 L757.7,173.5 L758.0,177.7 L758.1,179.0 L758.5,180.6 L759.0,184.2 L758.8,184.3 L759.0,190.1 L759.3,188.5 L759.8,193.0 L760.3,194.3 L760.0,191.0 L760.5,190.0 L760.5,189.7 L760.9,187.2 L761.4,182.6 L761.5,184.8 L760.8,189.5 L761.0,187.4 L761.3,191.0 L762.0,196.0 L761.7,196.6 L762.2,200.2 L762.1,201.1 L761.8,202.0 L762.4,205.9 L762.6,209.6 L762.9,209.5 L762.2,209.6 L762.7,204.0 L762.9,202.0 L762.6,200.3 L763.0,199.5 L762.6,197.5 L763.2,194.0 L763.3,193.3 L762.8,189.4 L763.5,188.3 L763.6,183.4 L763.9,184.1 L763.4,180.1 L764.1,176.7 L763.7,178.2 L764.2,172.3 L764.2,170.7 L764.2,170.4 L763.8,165.4 L764.0,163.4 L763.9,160.4 L764.3,159.9 L764.2,162.7 L765.1,164.9 L764.7,167.9 L764.9,167.5 L765.1,168.9 L765.4,171.9 L765.3,178.2 L765.8,179.8 L765.8,181.1 L766.0,185.0 L765.7,185.5 L766.0,186.1 L766.7,190.1 L767.0,193.7 L766.9,192.7 L766.6,196.6 L767.5,197.6 L767.1,200.2 L767.3,199.7 L767.3,195.3 L767.6,195.3 L768.4,189.8 L767.7,192.0 L768.6,186.0 L768.1,185.6 L768.2,182.8 L768.5,180.6 L768.3,181.3 L768.6,183.8 L769.2,189.1 L769.0,191.9 L769.6,192.1 L769.6,193.8 L770.2,197.9 L769.6,199.4 L770.6,201.7 L771.0,203.1 L771.4,208.0 L771.2,209.2 L771.6,211.3 L772.3,210.0 L771.9,204.4 L772.5,204.2 L772.1,200.1 L772.7,197.3 L772.8,195.5 L772.6,194.0 L773.0,192.4 L773.1,190.7 L773.7,186.3 L774.6,185.3 L774.8,184.7 L774.6,179.5 L775.1,177.0 L774.8,174.6 L775.5,175.3 L775.6,173.7 L775.9,168.1 L775.6,167.9 L775.5,165.1 L775.7,160.0 L776.3,159.4 L776.8,164.1 L776.6,162.9 L776.4,166.6 L777.0,168.1 L777.3,171.1 L777.5,171.2 L777.1,174.8 L777.6,176.4 L778.0,178.4 L777.8,182.0 L778.5,180.9 L778.4,176.9 L779.2,177.0 L779.1,170.4 L779.3,170.7 L779.4,165.3 L780.3,167.3 L779.7,162.6 L780.4,159.4 L780.2,158.5 L781.0,159.9 L780.5,161.9 L780.7,167.0 L780.8,165.7 L781.5,167.2 L781.1,169.0 L781.3,173.6 L782.0,174.0 L781.6,179.1 L781.9,179.7 L781.9,176.2 L782.9,173.1 L782.5,173.7 L783.4,172.0 L783.2,169.8 L783.6,163.9 L783.7,162.9 L784.1,162.8 L783.7,169.2 L783.7,170.7 L784.0,170.1 L784.0,173.4 L784.8,174.0 L784.8,177.1 L784.3,181.4 L784.5,180.8 L784.7,186.1 L785.2,187.1 L784.5,190.2 L785.2,193.1 L785.6,192.6 L785.6,197.1 L785.2,197.2 L785.4,199.8 L785.7,200.8 L786.0,207.1 L786.5,208.4 L787.2,211.6 L787.0,213.7 L787.6,213.0 L787.6,209.7 L787.8,205.1 L787.7,203.5 L787.9,200.1 L787.7,198.8 L788.1,196.6 L788.1,196.8 L788.3,191.2 L788.4,191.8 L788.2,189.1 L787.7,188.0 L788.2,183.7 L788.1,183.1 L788.6,181.3 L788.2,176.4 L788.3,174.3 L788.6,170.3 L789.2,169.0 L788.8,165.9 L789.6,164.2 L789.5,162.9 L790.1,163.4 L789.8,159.0 L790.7,156.4 L791.0,155.6 L790.8,154.1 L791.3,147.9 L791.7,149.5 L791.9,145.6 L791.9,149.9 L792.2,148.7 L792.0,151.8 L792.6,155.9 L792.0,159.3 L792.0,160.0 L792.4,162.9 L792.5,162.0 L792.6,168.0 L792.9,168.0 L792.5,172.3 L793.1,172.0 L793.3,178.1 L792.9,177.8 L793.3,177.9 L792.9,172.6 L793.1,172.5 L793.1,169.3 L793.4,167.7 L793.2,167.0 L794.0,162.8 L793.9,158.6 L794.1,158.1 L794.1,162.1 L793.9,164.6 L793.9,162.2 L794.3,168.8 L794.7,171.3 L794.5,173.4 L794.7,171.6 L794.9,177.1 L794.8,178.3 L794.8,179.6 L795.0,177.7 L795.1,173.3 L794.8,172.2 L795.5,171.9 L795.1,167.1 L795.5,164.3 L795.6,165.6 L795.3,161.4 L795.9,164.7 L796.1,166.7 L795.8,169.6 L796.6,167.9 L796.7,172.0 L796.1,172.4 L796.9,177.6 L796.4,178.7 L797.0,183.6 L796.9,184.7 L797.0,184.1 L797.0,187.4 L797.6,189.7 L797.2,190.9 L797.2,193.0 L797.5,196.7 L797.4,198.9 L797.7,203.4 L797.8,205.5 L797.8,204.3 L798.0,206.3 L797.7,208.2 L798.2,214.5 L798.0,214.0 L798.1,216.2 L798.3,218.6 L797.9,223.0 L798.3,221.4 L798.6,226.9 L798.3,228.6 L798.8,229.9 L798.4,231.7 L798.6,235.5 L798.8,239.0 L798.3,238.7 L799.0,242.8 L798.8,244.0 L798.7,243.4 L799.0,238.7 L798.8,235.2 L799.5,235.9 L798.8,231.5 L799.3,230.0 L799.3,229.5 L799.4,225.6 L800.1,223.7 L799.8,220.1 L799.8,219.0 L800.2,215.2 L800.0,213.4 L800.1,213.6 L800.3,208.3 L800.2,208.6 L800.2,205.7 L800.2,202.0 L800.3,206.1 L800.5,205.7 L800.5,208.1 L801.2,212.4 L801.4,215.6 L801.2,217.7 L800.8,220.0 L801.2,218.9 L801.6,224.1 L801.4,222.9 L801.9,228.0 L801.7,231.2 L801.3,229.4 L801.5,231.5 L802.1,236.3 L801.7,237.5 L801.8,236.3 L802.4,235.7 L802.2,233.5 L802.3,228.7 L802.3,225.8 L803.0,227.0 L802.9,221.1 L802.5,218.8 L802.8,219.3 L802.6,216.1 L803.3,211.7 L803.1,212.9 L803.4,209.2 L803.7,207.7 L803.4,204.8 L805.4,203.1 L805.4,205.0 L804.7,205.4 L805.0,210.1 L804.7,212.8 L805.4,213.7 L804.7,217.2 L805.1,218.9 L805.3,221.4 L805.1,224.6 L805.7,226.7 L805.4,226.2 L805.2,228.2 L805.7,232.8 L805.6,235.1 L805.8,236.8 L805.2,239.3 L805.2,240.9 L805.1,244.2 L805.5,243.9 L805.9,245.3 L805.9,250.4 L805.2,252.6 L805.6,255.5 L805.7,255.9 L806.1,252.1 L806.0,249.9 L805.7,247.7 L806.3,246.9 L806.3,243.9 L806.4,243.4 L805.9,240.5 L806.6,237.0 L806.6,235.1 L806.5,235.7 L807.1,233.8 L806.7,229.7 L807.2,228.4 L807.0,225.6 L807.0,229.3 L807.2,228.0 L807.5,230.4 L807.6,232.4 L807.9,236.8 L807.8,237.4 L807.8,240.8 L807.6,245.0 L807.5,245.9 L807.6,249.8 L808.5,248.7 L808.2,252.9 L808.5,256.3 L808.3,259.5 L808.2,259.5 L808.9,260.7 L808.4,264.4 L808.7,265.3 L809.3,268.7 L809.3,270.1 L809.6,272.2 L809.7,275.9 L809.8,278.8 L809.7,280.0 L810.0,281.9 L809.4,285.9 L810.2,287.2 L810.2,288.4 L810.1,287.8 L810.6,286.0 L810.0,282.8 L810.5,279.5 L810.3,276.3 L810.7,275.5 L810.6,272.7 L811.0,272.1 L811.1,267.5 L811.5,266.1 L811.7,266.4 L811.1,262.5 L811.9,259.8 L811.8,256.8 L811.6,254.0 L812.0,251.9 L812.7,250.7 L813.2,248.8 L813.0,246.3 L813.4,248.0 L813.8,250.8 L813.5,252.7 L813.6,256.4 L813.7,258.7 L813.7,256.9 L814.4,259.9 L814.5,261.8 L815.0,266.3 L815.0,269.5 L815.4,270.3 L815.3,270.2 L814.9,274.2 L815.8,275.9 L815.6,277.0 L815.6,282.7 L815.9,284.6 L815.5,284.4 L815.8,289.1 L815.9,290.6 L817.0,288.3 L818.1,283.5 L819.0,285.6 L819.2,286.5 L819.8,292.1 L819.6,292.8 L819.8,293.5 L819.9,297.7 L820.5,301.3 L820.5,302.2 L820.3,302.8 L820.3,306.5 L820.0,310.1 L820.0,309.7 L819.9,312.0 L820.3,316.6 L819.9,317.9 L820.3,320.4 L820.2,322.6 L820.0,318.7 L820.4,317.0 L820.8,314.8 L821.0,312.5 L820.4,311.1 L820.8,308.3 L821.2,305.6 L821.2,305.6 L821.1,302.1 L821.6,300.2 L821.0,295.9 L821.0,294.6 L821.1,293.2 L821.5,294.6 L821.7,299.3 L821.6,298.7 L821.8,301.7 L822.4,305.4 L822.1,305.8 L821.9,308.0 L822.7,312.2 L822.2,314.2 L822.2,311.8 L822.6,308.2 L823.0,308.2 L822.9,304.0 L823.2,302.8 L823.2,299.3 L823.6,296.7 L823.1,296.0 L823.1,292.6 L823.7,292.7 L823.4,293.3 L823.8,295.4 L823.7,299.4 L823.8,299.6 L823.6,303.3 L824.5,306.9 L823.8,307.6 L824.2,308.7 L824.5,312.0 L824.7,308.9 L824.8,308.4 L824.5,303.5 L824.6,301.1 L824.9,300.8 L824.8,299.5 L824.4,296.2 L825.2,291.5 L824.8,290.0 L825.2,293.7 L825.0,295.8 L825.1,298.1 L825.1,301.3 L825.3,299.9 L825.1,304.8 L825.9,306.7 L825.3,309.8 L825.9,309.3 L825.7,313.5 L825.4,313.5 L825.8,318.7 L826.5,318.9 L826.5,322.8 L826.5,324.3 L826.7,326.4 L826.7,324.2 L826.1,321.9 L826.5,319.0 L826.4,317.4 L826.7,314.1 L826.5,312.9 L826.8,310.3 L827.0,307.2 L827.0,305.3 L827.2,304.7 L827.3,301.8 L826.9,301.0 L827.2,296.8 L827.1,294.9 L827.6,298.6 L827.5,300.7 L827.4,302.1 L827.7,304.0 L827.8,308.1 L828.3,308.5 L828.0,312.4 L828.4,310.4 L828.5,308.2 L828.3,303.6 L828.5,301.3 L829.1,300.8 L829.0,300.2 L829.2,295.2 L828.9,292.5 L829.4,292.7 L829.2,289.0 L829.1,287.2 L829.6,285.5 L831.8,283.0 L831.8,284.5 L832.1,288.9 L832.3,288.1 L832.8,293.3 L833.7,293.3 L834.1,296.8 L834.1,297.6 L834.8,300.8 L834.7,304.3 L835.4,305.9 L835.9,307.9 L835.8,311.1 L836.3,311.8 L836.4,316.8 L836.5,318.8 L836.9,319.4 L836.4,323.4 L837.1,324.4 L836.9,328.7 L837.6,328.9 L837.5,332.3 L837.3,333.9 L837.6,332.5 L838.0,329.7 L837.8,326.4 L838.2,324.7 L838.4,324.1 L838.4,322.1 L838.8,318.4 L839.6,315.6 L840.5,311.9 L842.1,316.4 L842.9,318.3 L843.7,317.1 L844.0,312.2 L844.8,310.2 L845.4,309.0 L845.3,305.1 L845.7,301.9 L845.3,302.0 L845.6,300.7 L845.5,296.5 L845.7,292.6 L845.7,290.7 L846.1,289.9 L846.7,286.8 L847.4,285.4 L848.1,281.7 L848.1,280.6 L848.3,284.2 L848.4,286.5 L848.8,286.7 L849.3,289.8 L849.3,290.2 L850.1,293.5 L849.7,296.5 L851.9,298.5 L851.9,297.7 L852.0,293.8 L852.6,291.2 L852.2,288.1 L852.6,287.7 L852.5,284.4 L852.4,283.6 L852.7,281.4 L852.8,278.7 L852.6,274.3 L853.5,273.4 L853.6,275.5 L853.8,276.7 L853.9,280.8 L854.8,281.7 L855.1,284.5 L855.5,281.5 L855.8,279.8 L856.2,276.8 L856.5,276.5 L856.6,273.5 L857.2,276.3 L857.3,279.6 L857.4,279.7 L857.4,284.5 L857.6,286.5 L857.6,287.7 L858.3,291.5 L858.1,291.1 L858.2,294.4 L858.7,299.2 L858.7,299.0 L859.0,301.1 L859.1,304.8 L858.6,308.6 L859.2,310.8 L859.6,312.0 L859.9,313.4 L860.2,316.4 L859.6,318.9 L859.8,320.4 L860.5,323.1 L860.3,326.6 L860.6,325.9 L861.4,323.4 L861.6,319.4 L861.7,316.5 L862.0,315.9 L862.0,311.4 L861.6,310.5 L862.5,308.2 L863.2,304.3 L863.5,303.3 L864.0,301.2 L863.6,305.3 L863.7,306.8 L864.3,307.4 L864.3,310.2 L863.9,312.0 L864.6,314.8 L864.3,317.7 L864.0,320.3 L864.7,323.6 L864.4,323.5 L864.4,327.6 L864.8,328.8 L864.7,330.2 L865.1,333.5 L864.8,336.9 L864.6,338.9 L864.8,341.5 L864.6,342.0 L865.1,345.0 L865.0,347.8 L864.9,349.8 L864.9,353.5 L865.2,356.0 L865.5,357.6 L865.7,358.7 L865.9,361.5 L866.1,365.4 L866.0,367.8 L865.9,369.7 L866.5,370.6 L865.8,373.6 L866.3,375.9 L866.1,379.7 L866.3,380.0 L866.2,383.6 L866.3,385.6 L866.6,387.9 L866.7,391.4 L866.3,394.0 L866.6,393.9 L867.1,397.6 L867.2,394.4 L867.6,392.4 L867.8,389.9 L867.9,388.8 L867.9,386.1 L867.9,384.3 L868.7,380.6 L868.8,380.0 L868.6,378.0 L869.5,373.4 L869.2,372.1 L869.5,373.8 L870.0,376.8 L870.1,379.9 L870.5,382.8 L870.9,383.9 L870.6,386.1 L870.8,388.9 L871.2,393.3 L871.6,394.2 L870.8,397.7 L871.5,396.4 L871.9,392.3 L871.9,391.8 L872.7,388.0 L873.0,386.7 L873.7,383.5 L873.5,381.2 L876.0,379.9 L876.1,382.7 L876.2,385.2 L876.3,387.7 L877.2,388.8 L877.1,393.6 L877.9,394.5 L877.8,393.0 L878.2,390.1 L877.7,387.3 L878.4,386.1 L878.1,383.5 L878.7,381.1 L878.3,378.1 L878.7,376.2 L878.9,372.4 L879.4,370.5 L879.7,368.5 L879.5,372.0 L879.2,374.1 L879.3,377.0 L879.3,378.6 L879.7,379.4 L879.9,382.6 L880.0,383.8 L880.2,386.6 L880.7,389.2 L880.3,391.1 L880.8,393.6 L880.6,397.4 L880.5,399.0 L880.5,395.4 L880.4,394.1 L881.3,391.2 L881.1,390.5 L881.0,386.5 L881.4,385.0 L881.9,384.1 L881.4,380.9 L881.7,377.1 L881.8,376.7 L882.6,373.4 L883.9,369.5 L884.5,371.3 L884.3,375.6 L884.4,377.1 L884.9,379.9 L885.2,382.1 L886.6,378.8 L887.7,377.2 L889.1,378.9 L890.3,382.4 L889.9,379.2 L890.5,376.2 L890.6,373.8 L890.9,372.2 L890.7,370.4 L890.5,366.4 L891.3,365.8 L891.6,362.6 L891.6,360.0 L891.8,358.5 L892.6,360.6 L892.9,364.2 L893.4,366.6 L895.6,369.7 L895.9,372.5 L896.9,375.7 L897.4,377.4 L898.3,379.0 L898.9,383.0 L899.4,385.3 L899.2,386.6 L899.7,387.9 L900.1,391.7 L900.1,393.9 L900.0,396.2" fill="none" stroke="#2a204e" stroke-width="4.7" stroke-linejoin="round" stroke-linecap="round"/>
<g fill="#f6a596"><circle cx="168.75" cy="406.2" r="1.9"/><circle cx="177.85" cy="406.2" r="1.9"/><circle cx="186.95" cy="406.2" r="1.9"/><circle cx="196.06" cy="406.2" r="1.9"/><circle cx="205.16" cy="406.2" r="1.9"/><circle cx="214.26" cy="406.2" r="1.9"/><circle cx="223.36" cy="406.2" r="1.9"/><circle cx="232.46" cy="406.2" r="1.9"/><circle cx="241.57" cy="406.2" r="1.9"/><circle cx="250.67" cy="406.2" r="1.9"/><circle cx="259.77" cy="406.2" r="1.9"/><circle cx="268.87" cy="406.2" r="1.9"/><circle cx="277.97" cy="406.2" r="1.9"/><circle cx="287.08" cy="406.2" r="1.9"/><circle cx="296.18" cy="406.2" r="1.9"/><circle cx="305.28" cy="406.2" r="1.9"/><circle cx="314.38" cy="406.2" r="1.9"/><circle cx="323.48" cy="406.2" r="1.9"/><circle cx="332.59" cy="406.2" r="1.9"/><circle cx="341.69" cy="406.2" r="1.9"/><circle cx="350.79" cy="406.2" r="1.9"/><circle cx="359.89" cy="406.2" r="1.9"/><circle cx="368.99" cy="406.2" r="1.9"/><circle cx="378.10" cy="406.2" r="1.9"/><circle cx="387.20" cy="406.2" r="1.9"/><circle cx="396.30" cy="406.2" r="1.9"/><circle cx="405.40" cy="406.2" r="1.9"/><circle cx="414.50" cy="406.2" r="1.9"/><circle cx="423.61" cy="406.2" r="1.9"/><circle cx="432.71" cy="406.2" r="1.9"/><circle cx="441.81" cy="406.2" r="1.9"/><circle cx="450.91" cy="406.2" r="1.9"/><circle cx="460.01" cy="406.2" r="1.9"/><circle cx="469.12" cy="406.2" r="1.9"/><circle cx="478.22" cy="406.2" r="1.9"/><circle cx="487.32" cy="406.2" r="1.9"/><circle cx="496.42" cy="406.2" r="1.9"/><circle cx="505.52" cy="406.2" r="1.9"/><circle cx="514.63" cy="406.2" r="1.9"/><circle cx="523.73" cy="406.2" r="1.9"/><circle cx="532.83" cy="406.2" r="1.9"/><circle cx="541.93" cy="406.2" r="1.9"/><circle cx="551.03" cy="406.2" r="1.9"/><circle cx="560.14" cy="406.2" r="1.9"/><circle cx="569.24" cy="406.2" r="1.9"/><circle cx="578.34" cy="406.2" r="1.9"/><circle cx="587.44" cy="406.2" r="1.9"/><circle cx="596.54" cy="406.2" r="1.9"/><circle cx="605.65" cy="406.2" r="1.9"/><circle cx="614.75" cy="406.2" r="1.9"/><circle cx="623.85" cy="406.2" r="1.9"/><circle cx="632.95" cy="406.2" r="1.9"/><circle cx="642.05" cy="406.2" r="1.9"/><circle cx="651.16" cy="406.2" r="1.9"/><circle cx="660.26" cy="406.2" r="1.9"/><circle cx="669.36" cy="406.2" r="1.9"/><circle cx="678.46" cy="406.2" r="1.9"/><circle cx="687.56" cy="406.2" r="1.9"/><circle cx="696.67" cy="406.2" r="1.9"/><circle cx="705.77" cy="406.2" r="1.9"/><circle cx="714.87" cy="406.2" r="1.9"/><circle cx="723.97" cy="406.2" r="1.9"/><circle cx="733.07" cy="406.2" r="1.9"/><circle cx="742.18" cy="406.2" r="1.9"/><circle cx="751.28" cy="406.2" r="1.9"/><circle cx="760.38" cy="406.2" r="1.9"/><circle cx="769.48" cy="406.2" r="1.9"/><circle cx="778.58" cy="406.2" r="1.9"/><circle cx="787.69" cy="406.2" r="1.9"/><circle cx="796.79" cy="406.2" r="1.9"/><circle cx="805.89" cy="406.2" r="1.9"/><circle cx="814.99" cy="406.2" r="1.9"/><circle cx="824.09" cy="406.2" r="1.9"/><circle cx="833.20" cy="406.2" r="1.9"/><circle cx="842.30" cy="406.2" r="1.9"/><circle cx="851.40" cy="406.2" r="1.9"/><circle cx="860.50" cy="406.2" r="1.9"/><circle cx="869.60" cy="406.2" r="1.9"/><circle cx="878.71" cy="406.2" r="1.9"/><circle cx="887.81" cy="406.2" r="1.9"/><circle cx="896.91" cy="406.2" r="1.9"/></g>
</svg>
<div class="fn"><span id="l1"><span style="letter-spacing:-0.075px">Source: FTSE Russell, Artemis, Grayscale Investments. Data as of March</span><span style="letter-spacing:0.125px"> 31, 2026. Altcoin grouping determined by</span></span><br><span id="l2"><span style="letter-spacing:-0.05px">Grayscale using data from FTSE Russell. Grouping rebased to 100</span><span style="letter-spacing:0.3px"> starting on January</span><span style="letter-spacing:-0.1px"> 1, 2023. Past performance</span></span><br><span id="l3">not indicative of future results.</span></div>
</body></html>
